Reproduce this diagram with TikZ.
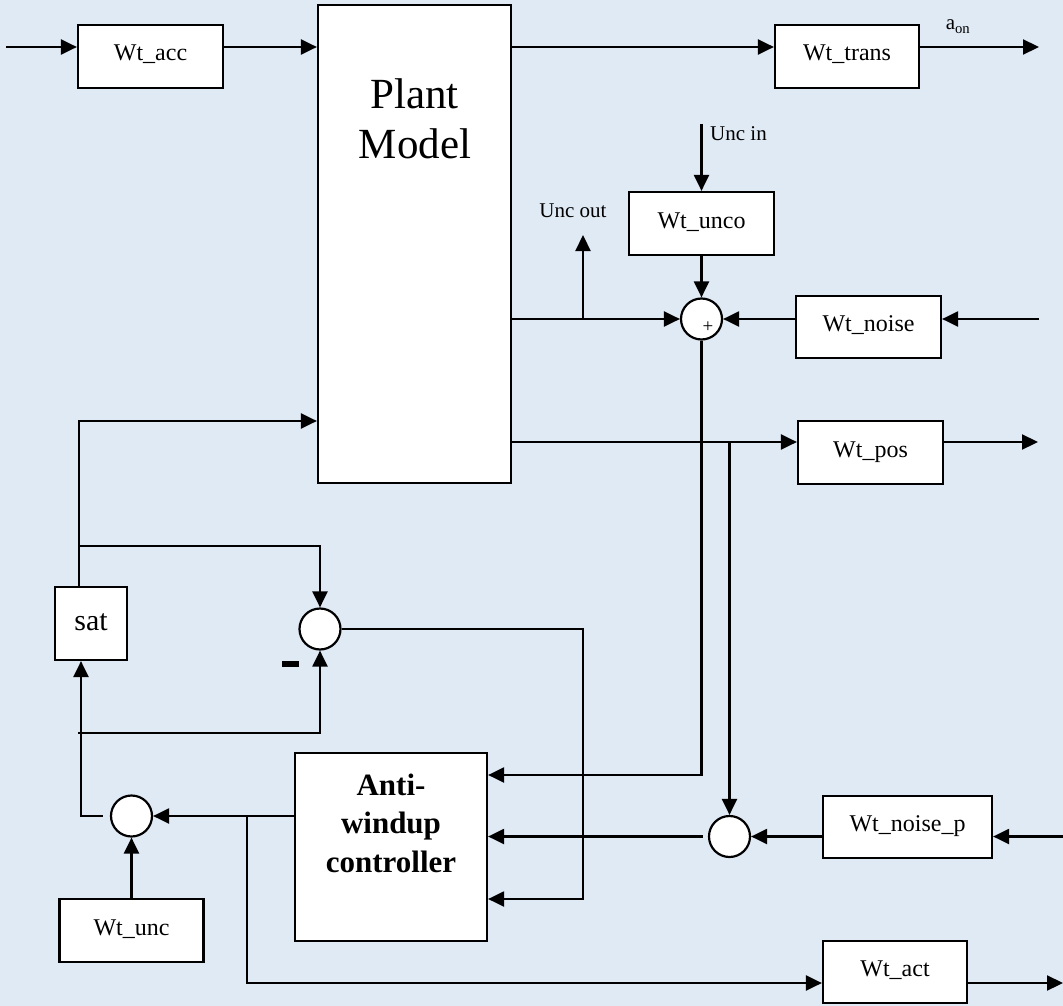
\documentclass[tikz,border=0pt]{standalone}
\usepackage{fontspec}
\setmainfont{Liberation Serif}
\usetikzlibrary{arrows.meta}
\definecolor{bgblue}{RGB}{224,234,245}
\begin{document}
\begin{tikzpicture}[x=1pt,y=-1pt,
  wire/.style={line width=2.2pt},
  arr/.style={wire,-{Triangle[length=16pt,width=15pt]}},
  blk/.style={draw,line width=2.2pt,fill=white,inner sep=0pt,
    font=\fontsize{24}{28}\selectfont,text height=16pt,text depth=7pt},
  sumc/.style={draw,circle,line width=2.2pt,fill=white,minimum size=41pt,inner sep=0pt},
  lbl/.style={inner sep=0pt,font=\fontsize{21}{25}\selectfont},
  big/.style={inner sep=0pt,font=\fontsize{43}{50}\selectfont,anchor=base},
  awt/.style={inner sep=0pt,font=\bfseries\fontsize{31}{38}\selectfont,anchor=base}]
\fill[bgblue] (0,0) rectangle (1063,1006);
\useasboundingbox (0,0) rectangle (1063,1006);

% blocks
\node[blk,minimum width=145pt,minimum height=63pt] (acc) at (150.5,56.5) {Wt\_acc};
\node[blk,minimum width=144pt,minimum height=63pt] (trans) at (847,56.5) {Wt\_trans};
\node[draw,line width=2.2pt,fill=white,inner sep=0pt,minimum width=193pt,minimum height=478pt] (plant) at (414.5,244) {};
\node[big] (ptxt1) at (414.5,109) {Plant};
\node[big] (ptxt2) at (415,159) {Model};
\node[blk,minimum width=145pt,minimum height=63pt] (unco) at (701.5,223.5) {Wt\_unco};
\node[blk,minimum width=145pt,minimum height=62pt] (noise) at (868.5,327) {Wt\_noise};
\node[blk,minimum width=145pt,minimum height=63pt] (pos) at (870.5,452.5) {Wt\_pos};
\node[blk,minimum width=72pt,minimum height=73pt,font=\fontsize{30}{34}\selectfont,text height=21pt,text depth=7pt] (sat) at (91,623.5) {sat};
\node[draw,line width=2.2pt,fill=white,inner sep=0pt,minimum width=192pt,minimum height=188pt] (aw) at (391,847) {};
\node[awt] (awt1) at (391,795) {Anti-};
\node[awt] (awt2) at (391,833) {windup};
\node[awt] (awt3) at (391,872) {controller};
\node[blk,minimum width=169pt,minimum height=62pt] (np) at (907.5,827) {Wt\_noise\_p};
\node[blk,minimum width=144pt,minimum height=62pt] (act) at (895,972) {Wt\_act};
\node[blk,minimum width=144pt,minimum height=63pt] (unc) at (131.5,930.5) {Wt\_unc};

% summing junctions
\node[sumc] (s1) at (701.5,319) {};
\node[font=\fontsize{19}{19}\selectfont,inner sep=0pt] (plus) at (708,327) {+};
\node[sumc] (s2) at (320,629) {};
\node[sumc] (s3) at (729.5,836.5) {};
\node[sumc] (s4) at (131.5,816) {};
\fill (282,661) rectangle (299,667);

% labels
\node[lbl,anchor=base] (aon) at (958,30) {a\textsubscript{on}};
\node[lbl,anchor=base west] (uinl) at (710,141) {Unc in};
\node[lbl,anchor=base] (uoutl) at (573,217) {Unc out};

% top row
\coordinate (in1) at (6,47);
\coordinate (out1) at (1039,47);
\draw[arr] (in1) -- (in1 -| acc.west);
\draw[arr] (in1 -| acc.east) -- (in1 -| plant.west);
\draw[arr] (in1 -| plant.east) -- (in1 -| trans.west);
\draw[arr] (in1 -| trans.east) -- (out1);

% uncertainty
\coordinate (uin) at (701.5,124);
\draw[arr] (uin) -- (unco.north);
\draw[arr] (unco.south) -- (s1.north);
\draw[arr] (plant.east |- s1) -- (s1.west);
\coordinate (uout) at (583,235);
\draw[arr] (uout |- s1) -- (uout);
\coordinate (nin) at (1039,319);
\draw[arr] (nin) -- (nin -| noise.east);
\draw[arr] (s1 -| noise.west) -- (s1.east);
\coordinate (k1) at (701.5,775);
\draw[arr] (s1.south) -- (k1) -- (k1 -| aw.east);

% position
\coordinate (py) at (511,442);
\coordinate (pout) at (1038,442);
\draw[arr] (plant.east |- py) -- (py -| pos.west);
\draw[arr] (py -| pos.east) -- (pout);
\draw[arr] (s3 |- py) -- (s3.north);
\draw[arr,shorten <=5pt] (s3.west) -- (s3 -| aw.east);
\coordinate (npin) at (1063,836.5);
\draw[arr] (npin) -- (npin -| np.east);
\draw[arr] (s3 -| np.west) -- (s3.east);

% anti-windup loop
\coordinate (k2) at (583,629);
\coordinate (k3) at (583,899);
\draw[arr] (s2.east) -- (k2) -- (k3) -- (k3 -| aw.east);

% controller output
\draw[arr] (aw.west |- s4) -- (s4.east);
\coordinate (j1) at (247,816);
\coordinate (k4) at (247,983);
\coordinate (aout) at (1063,983);
\draw[arr] (j1) -- (k4) -- (k4 -| act.west);
\draw[arr] (k4 -| act.east) -- (aout);
\draw[arr] (unc.north) -- (s4.south);

% saturation
\coordinate (k5) at (81,816);
\draw[arr,shorten <=7pt] (s4.west) -- (k5) -- (k5 |- sat.south);
\coordinate (k6) at (78,733);
\coordinate (k7) at (320,733);
\draw[arr] (k6) -- (k7) -- (s2.south);
\coordinate (k8) at (79,421);
\draw[arr] (k8 |- sat.north) -- (k8) -- (k8 -| plant.west);
\coordinate (k9) at (79,546);
\draw[arr] (k9) -- (k9 -| s2) -- (s2.north);
\end{tikzpicture}
\end{document}
